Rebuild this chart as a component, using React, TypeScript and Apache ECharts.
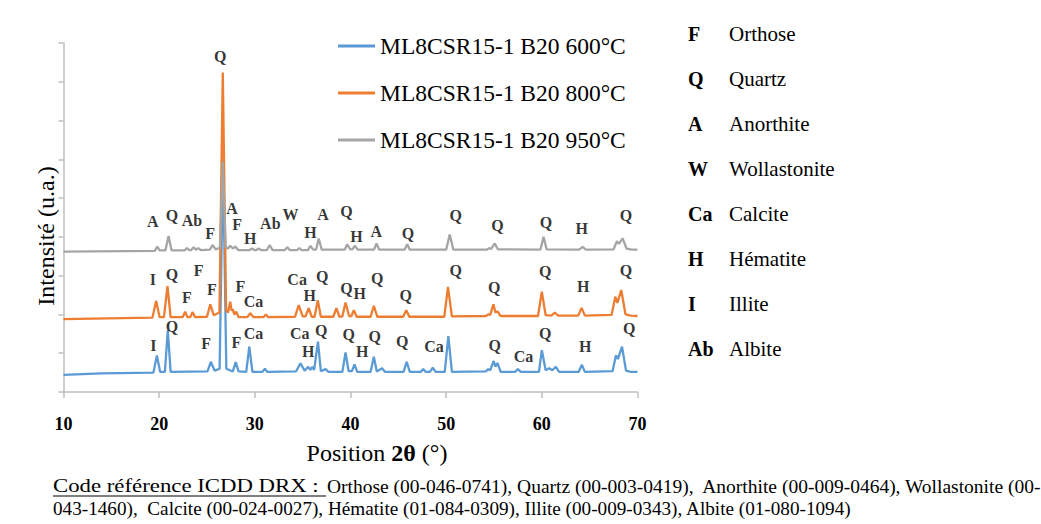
import React, { useEffect, useRef } from "react";
import * as echarts from "echarts";

const SERIF = "Liberation Serif";

const SERIES_NAMES = ["ML8CSR15-1 B20 600°C", "ML8CSR15-1 B20 800°C", "ML8CSR15-1 B20 950°C"];
const SERIES_COLORS = ["#5b9bd5", "#ed7d31", "#a5a5a5"];

// 2θ (°), intensity (a.u., offset)
const data600: [number, number][] = [
  [10, 0.44], [14, 0.48], [19.4, 0.5], [19.76, 0.94], [20.1, 0.52], [20.6, 0.52], [20.9, 1.6], [21.2, 0.52],
  [25.05, 0.53], [25.4, 0.78], [25.8, 0.55], [26.32, 0.6], [26.67, 6.0], [27.02, 0.6], [27.7, 0.53], [28.0, 0.77],
  [28.3, 0.53], [29.1, 0.52], [29.42, 1.17], [29.75, 0.52], [30.8, 0.52], [31.05, 0.6], [31.3, 0.52],
  [34.3, 0.53], [34.77, 0.74], [35.2, 0.55], [35.57, 0.65], [35.8, 0.57], [36.0, 0.65], [36.2, 0.57],
  [36.6, 1.3], [36.9, 0.54], [37.4, 0.59], [37.7, 0.52], [39.15, 0.52], [39.48, 1.02], [39.8, 0.54],
  [40.15, 0.54], [40.42, 0.71], [40.7, 0.52], [42.1, 0.52], [42.44, 0.91], [42.75, 0.53], [43.3, 0.61],
  [43.6, 0.52], [45.55, 0.52], [45.87, 0.78], [46.2, 0.52], [47.35, 0.52], [47.6, 0.59], [47.85, 0.52],
  [48.3, 0.52], [48.6, 0.63], [48.9, 0.52], [49.85, 0.52], [50.23, 1.44], [50.6, 0.52], [54.15, 0.53],
  [54.4, 0.59], [54.6, 0.56], [54.97, 0.8], [55.15, 0.65], [55.36, 0.75], [55.7, 0.52], [57.2, 0.52],
  [57.5, 0.59], [57.8, 0.52], [59.7, 0.52], [60.0, 1.08], [60.4, 0.56], [60.77, 0.61], [61.1, 0.56],
  [61.47, 0.65], [61.8, 0.52], [63.85, 0.52], [64.19, 0.7], [64.5, 0.52], [67.4, 0.54], [67.75, 0.95],
  [67.95, 0.85], [68.38, 1.17], [68.8, 0.55], [69.3, 0.52], [70, 0.52],
];

const data800: [number, number][] = [
  [10, 1.88], [19.3, 1.92], [19.69, 2.35], [20.05, 1.93], [20.5, 1.93], [20.87, 2.73], [21.2, 1.93],
  [22.45, 1.93], [22.72, 2.07], [22.95, 1.93], [23.25, 1.93], [23.49, 2.06], [23.75, 1.93], [25.0, 1.94],
  [25.34, 2.26], [25.7, 1.98], [26.3, 2.05], [26.65, 8.24], [27.0, 2.1], [27.2, 2.05], [27.43, 2.33],
  [27.57, 2.1], [27.7, 2.13], [27.85, 2.0], [28.06, 2.07], [28.3, 1.93], [29.2, 1.93], [29.53, 2.03],
  [29.85, 1.93], [30.9, 1.93], [31.15, 2.0], [31.4, 1.93], [34.2, 1.94], [34.59, 2.24], [35.0, 1.95],
  [35.3, 1.95], [35.63, 2.16], [35.95, 1.94], [36.25, 1.94], [36.58, 2.37], [36.9, 1.94], [38.2, 1.94],
  [38.53, 2.16], [38.85, 1.94], [39.15, 1.95], [39.48, 2.31], [39.85, 1.96], [40.1, 1.96], [40.35, 2.11],
  [40.65, 1.94], [42.1, 1.94], [42.44, 2.22], [42.8, 1.94], [45.5, 1.94], [45.83, 2.11], [46.15, 1.94],
  [49.8, 1.94], [50.19, 2.71], [50.6, 1.95], [54.15, 1.96], [54.4, 2.0], [54.6, 1.99], [54.94, 2.26],
  [55.15, 2.05], [55.36, 2.08], [55.7, 1.96], [59.6, 1.96], [60.0, 2.59], [60.4, 1.98], [61.0, 1.97],
  [61.36, 2.05], [61.7, 1.97], [63.8, 1.97], [64.16, 2.17], [64.5, 1.97], [67.3, 1.99], [67.68, 2.46],
  [67.9, 2.3], [68.3, 2.63], [68.75, 2.0], [69.3, 1.97], [70, 1.96],
];

const data950: [number, number][] = [
  [10, 3.62], [19.55, 3.64], [19.8, 3.75], [20.05, 3.65], [20.65, 3.65], [20.98, 4.02], [21.3, 3.65],
  [22.65, 3.65], [22.9, 3.71], [23.15, 3.66], [23.35, 3.66], [23.6, 3.73], [23.85, 3.67], [24.1, 3.71],
  [24.35, 3.66], [25.3, 3.67], [25.58, 3.79], [25.9, 3.68], [26.35, 3.72], [26.65, 5.94], [26.95, 3.74],
  [27.2, 3.7], [27.43, 3.77], [27.7, 3.7], [27.96, 3.75], [28.25, 3.66], [29.45, 3.66], [29.7, 3.7],
  [29.95, 3.66], [30.15, 3.66], [30.4, 3.7], [30.65, 3.66], [31.25, 3.66], [31.55, 3.79], [31.85, 3.66],
  [33.1, 3.66], [33.4, 3.73], [33.65, 3.66], [34.4, 3.66], [34.65, 3.71], [34.9, 3.66], [35.55, 3.66],
  [35.81, 3.77], [36.1, 3.67], [36.4, 3.67], [36.68, 3.96], [37.0, 3.67], [39.4, 3.67], [39.65, 3.81],
  [39.95, 3.68], [40.2, 3.68], [40.45, 3.77], [40.75, 3.67], [42.45, 3.67], [42.72, 3.83], [43.0, 3.67],
  [45.65, 3.67], [45.93, 3.81], [46.2, 3.67], [50.0, 3.67], [50.37, 4.06], [50.75, 3.67], [54.25, 3.67],
  [54.5, 3.71], [54.7, 3.69], [55.08, 3.83], [55.4, 3.68], [59.85, 3.67], [60.18, 4.0], [60.5, 3.68],
  [63.9, 3.67], [64.26, 3.74], [64.6, 3.67], [67.5, 3.68], [67.85, 3.89], [68.05, 3.82], [68.45, 3.96],
  [68.85, 3.7], [69.4, 3.67], [70, 3.67],
];

// phase labels: [2θ, height, text]
const labels600: [number, number, string][] = [
  [19.4, 1.21, "I"], [21.33, 1.68, "Q"], [24.92, 1.24, "F"], [28.06, 1.27, "F"], [29.87, 1.5, "Ca"],
  [34.69, 1.5, "Ca"], [36.93, 1.58, "Q"], [35.57, 1.04, "H"], [39.82, 1.47, "Q"], [41.23, 1.04, "H"],
  [42.54, 1.44, "Q"], [45.41, 1.3, "Q"], [48.72, 1.17, "Ca"], [55.08, 1.19, "Q"], [58.08, 0.91, "Ca"],
  [60.35, 1.51, "Q"], [64.53, 1.17, "H"], [69.14, 1.64, "Q"],
];
const labels800: [number, number, string][] = [
  [19.34, 2.89, "I"], [21.33, 3.04, "Q"], [24.12, 3.13, "F"], [22.9, 2.44, "F"], [25.52, 2.65, "F"],
  [28.48, 2.73, "F"], [29.87, 2.33, "Ca"], [34.42, 2.89, "Ca"], [37.04, 2.99, "Q"], [35.74, 2.5, "H"],
  [39.58, 2.67, "Q"], [40.97, 2.54, "H"], [42.8, 2.93, "Q"], [45.76, 2.5, "Q"], [51.0, 3.14, "Q"],
  [55.01, 2.7, "Q"], [60.35, 3.1, "Q"], [64.32, 2.71, "H"], [68.8, 3.14, "Q"],
];
const labels950: [number, number, string][] = [
  [19.34, 4.39, "A"], [21.33, 4.56, "Q"], [23.42, 4.41, "Ab"], [25.34, 4.1, "F"], [27.61, 4.73, "A"],
  [28.14, 4.33, "F"], [29.53, 3.96, "H"], [31.62, 4.35, "Ab"], [33.72, 4.59, "W"], [35.81, 4.11, "H"],
  [37.14, 4.59, "A"], [39.58, 4.65, "Q"], [40.63, 4.0, "H"], [42.69, 4.13, "A"], [46.0, 4.09, "Q"],
  [51.0, 4.54, "Q"], [55.36, 4.3, "Q"], [60.42, 4.36, "Q"], [64.16, 4.22, "H"], [68.8, 4.56, "Q"],
  [26.39, 8.66, "Q"],
];

const keyCodes = ["F", "Q", "A", "W", "Ca", "H", "I", "Ab"];
const keyNames = ["Orthose", "Quartz", "Anorthite", "Wollastonite", "Calcite", "Hématite", "Illite", "Albite"];

const captionHead = "Code référence ICDD DRX :";
const captionLine1 = "Orthose (00-046-0741), Quartz (00-003-0419),  Anorthite (00-009-0464), Wollastonite (00-";
const captionLine2 = "043-1460),  Calcite (00-024-0027), Hématite (01-084-0309), Illite (00-009-0343), Albite (01-080-1094)";

const txt = (text: string, x: number, y: number, size: number, extra: any = {}) => ({
  type: "text",
  x,
  y,
  ...extra,
  style: {
    text,
    fontFamily: SERIF,
    fontSize: size,
    fontWeight: extra.bold ? "bold" : "normal",
    fill: "#000",
    textAlign: extra.align || "left",
    textVerticalAlign: "middle",
  },
});

export default function App() {
  const ref = useRef<HTMLDivElement>(null);
  useEffect(() => {
    const chart = echarts.init(ref.current!, null, { renderer: "svg" });
    const labelSeries = (d: [number, number, string][], id: string) => ({
      type: "scatter",
      id,
      name: id,
      data: d.map((p) => ({ value: [p[0], p[1]], name: p[2] })),
      symbolSize: 1,
      itemStyle: { color: "rgba(0,0,0,0)" },
      silent: true,
      z: 5,
      label: {
        show: true,
        position: "inside",
        formatter: "{b}",
        fontFamily: SERIF,
        fontWeight: "bold",
        fontSize: 16,
        color: "#000",
      },
    });
    const lineSeries = [data600, data800, data950].map((d, i) => ({
      type: "line",
      name: SERIES_NAMES[i],
      data: d,
      showSymbol: false,
      symbol: "none",
      lineStyle: { color: SERIES_COLORS[i], width: 2.3 },
      itemStyle: { color: SERIES_COLORS[i] },
      z: 2 + i,
    }));
    const graphics: any[] = [];
    keyCodes.forEach((c, i) => {
      const y = 34 + i * 45;
      graphics.push(txt(c, 688, y, 20, { bold: true }));
      graphics.push(txt(keyNames[i], 729, y, 21));
    });
    graphics.push(txt("Intensité (u.a.)", 46, 236, 24, { rotation: Math.PI / 2, align: "center" }));
    graphics.push({
      type: "group",
      children: [
        {
          type: "group",
          x: 53,
          y: 486,
          scaleX: 1.2,
          children: [txt(captionHead, 0, 0, 19)],
        },
        { type: "line", shape: { x1: 53, y1: 496, x2: 326, y2: 496 }, style: { stroke: "#000", lineWidth: 1 } },
        txt(captionLine1, 327, 486, 19.5),
        txt(captionLine2, 53, 508, 19.2),
        {
          type: "text",
          x: 377,
          y: 453,
          style: {
            text: "{a|Position }{b|2θ}{a| (°)}",
            textAlign: "center",
            textVerticalAlign: "middle",
            rich: {
              a: { fontFamily: SERIF, fontSize: 24, fill: "#000" },
              b: { fontFamily: SERIF, fontSize: 24, fontWeight: "bold", fill: "#000" },
            },
          },
        },
      ],
    });

    chart.setOption({
      animation: false,
      backgroundColor: "#fff",
      textStyle: { fontFamily: SERIF },
      grid: { left: 63.5, right: 403.5, top: 43, bottom: 132, containLabel: false },
      legend: {
        data: SERIES_NAMES,
        orient: "vertical",
        left: 338,
        top: 34,
        padding: 0,
        icon: "rect",
        itemWidth: 37,
        itemHeight: 3,
        itemGap: 23,
        textStyle: { fontFamily: SERIF, fontSize: 23.5, color: "#000" },
      },
      xAxis: {
        type: "value",
        min: 10,
        max: 70,
        interval: 10,
        axisLine: { show: true, lineStyle: { color: "#bfbfbf", width: 1.5 } },
        axisTick: { show: true, length: 6, lineStyle: { color: "#bfbfbf", width: 1.5 } },
        splitLine: { show: false },
        axisLabel: { fontFamily: SERIF, fontWeight: "bold", fontSize: 18, color: "#000", margin: 23 },
      },
      yAxis: {
        type: "value",
        min: 0,
        max: 9,
        interval: 1,
        axisLine: { show: true, lineStyle: { color: "#bfbfbf", width: 1.5 } },
        axisTick: { show: true, length: 5, lineStyle: { color: "#bfbfbf", width: 1.5 } },
        splitLine: { show: false },
        axisLabel: { show: false },
      },
      graphic: graphics,
      series: [...lineSeries, labelSeries(labels600, "lab600"), labelSeries(labels800, "lab800"), labelSeries(labels950, "lab950")],
    });
    return () => chart.dispose();
  }, []);
  return (
    <div
      ref={ref}
      style={{ position: "fixed", left: 0, top: 0, width: 1041, height: 524, background: "#fff" }}
    />
  );
}
